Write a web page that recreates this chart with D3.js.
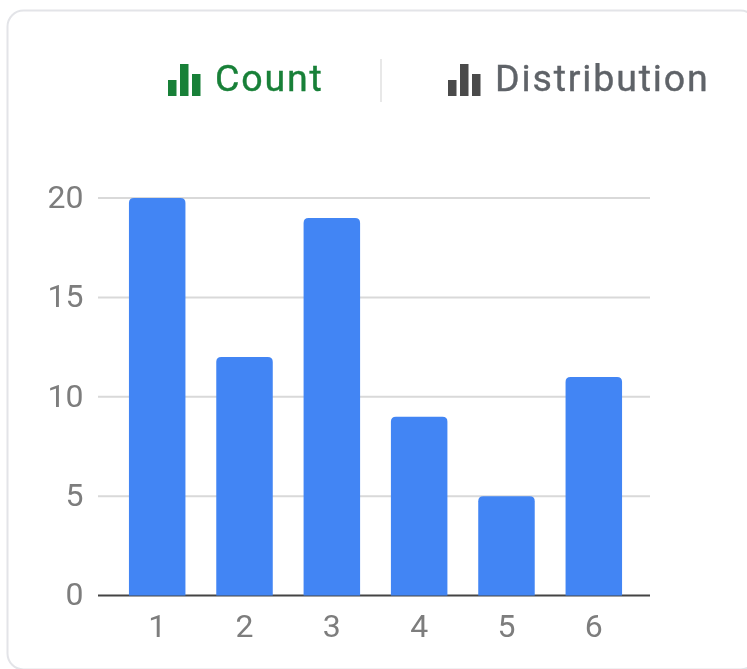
<!DOCTYPE html>
<html lang="en">
<head>
<meta charset="UTF-8">
<title>Count</title>
<script src="https://d3js.org/d3.v7.min.js"></script>
<style>
    html, body { margin: 0; padding: 0; background: #fff; }
    svg { display: block; filter: blur(0.7px); }
    text { font-family: Roboto, sans-serif; }
</style>
</head>
<body>
<svg width="747" height="669"></svg>
<script>
const categories = ["1", "2", "3", "4", "5", "6"];
const counts = [20, 12, 19, 9, 5, 11];
const yTicks = [0, 5, 10, 15, 20];
const tabs = ["Count", "Distribution"];
const iconBars = [16, 32, 22];

const svg = d3.select("svg");

// card outline, runs off the right and bottom edge of the crop
svg.append("rect")
    .attr("x", 7.5).attr("y", 10.5)
    .attr("width", 749).attr("height", 659)
    .attr("rx", 16)
    .attr("fill", "#fff")
    .attr("stroke", "#e3e4e8")
    .attr("stroke-width", 2);

const x = d3.scaleBand().domain(categories).range([101, 650]).paddingInner(0.353).paddingOuter(0.32);
const y = d3.scaleLinear().domain([0, 20]).range([595.5, 198]);

// gridlines
svg.selectAll(".grid")
    .data(yTicks.filter(d => d > 0))
    .enter().append("line")
    .attr("class", "grid")
    .attr("x1", 98).attr("x2", 650)
    .attr("y1", d => y(d)).attr("y2", d => y(d))
    .attr("stroke", "#d9d9d9")
    .attr("stroke-width", 2);

// baseline
svg.append("line")
    .attr("x1", 98).attr("x2", 650)
    .attr("y1", y(0)).attr("y2", y(0))
    .attr("stroke", "#444")
    .attr("stroke-width", 2);

// bars, square at the bottom and slightly rounded on top
svg.selectAll(".bar")
    .data(counts)
    .enter().append("path")
    .attr("class", "bar")
    .attr("fill", "#4285f4")
    .attr("d", (d, i) => {
        const l = x(categories[i]), w = x.bandwidth(), t = y(d), b = y(0), r = 5;
        return `M${l},${b}V${t + r}Q${l},${t} ${l + r},${t}H${l + w - r}Q${l + w},${t} ${l + w},${t + r}V${b}Z`;
    });

// axis labels
const yAxis = d3.axisLeft(y).tickValues(yTicks).tickSize(0).tickPadding(0);
const gy = svg.append("g").attr("transform", "translate(83.5,-1)").call(yAxis);
gy.select(".domain").remove();
gy.selectAll("text")
    .attr("font-size", 32).attr("fill", "#7d7d7d").attr("font-family", "Roboto, sans-serif");

const xAxis = d3.axisBottom(x).tickSize(0).tickPadding(0);
const gx = svg.append("g").attr("transform", "translate(0,614)").call(xAxis);
gx.select(".domain").remove();
gx.selectAll("text")
    .attr("font-size", 32).attr("fill", "#7d7d7d").attr("font-family", "Roboto, sans-serif");

// tabs with little bar icons
function tab(label, iconX, textX, color, textColor) {
    const g = svg.append("g");
    iconBars.forEach((h, i) => {
        g.append("rect")
            .attr("x", iconX + i * 12)
            .attr("y", 96 - h)
            .attr("width", 8.5)
            .attr("height", h)
            .attr("fill", color);
    });
    g.append("text")
        .attr("x", textX).attr("y", 90.5)
        .attr("font-size", 37.5)
        .attr("letter-spacing", 1.85)
        .attr("stroke", textColor)
        .attr("stroke-width", 0.4)
        .attr("fill", textColor)
        .text(label);
}
tab(tabs[0], 168, 215, "#188038", "#188038");
tab(tabs[1], 448, 495, "#4a4a4a", "#5f6368");

// divider between the tabs
svg.append("line")
    .attr("x1", 381).attr("x2", 381)
    .attr("y1", 59).attr("y2", 102)
    .attr("stroke", "#e0e0e0")
    .attr("stroke-width", 1.5);
</script>
</body>
</html>
